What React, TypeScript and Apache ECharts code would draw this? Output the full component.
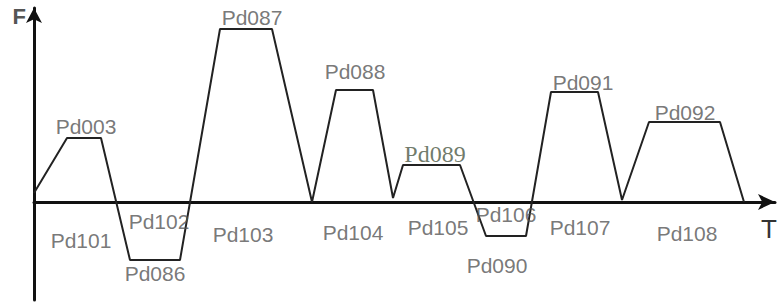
import React, { useEffect, useRef } from "react";
import * as echarts from "echarts";

// Force profile: time (t) vs force (F)
const traceT = [0, 33, 67, 96, 146, 186, 238, 278, 302, 339, 359, 369, 426, 452, 492, 517, 564, 588, 615, 686, 710];
const traceF = [9, 64, 64, -58, -58, 173, 173, 0, 112, 112, 4, 37, 37, -34, -34, 110, 110, 2, 80, 80, 0];

// Segment labels
const labelNames = ["Pd003", "Pd101", "Pd102", "Pd086", "Pd087", "Pd103", "Pd088", "Pd104", "Pd089", "Pd105", "Pd106", "Pd090", "Pd091", "Pd107", "Pd092", "Pd108"];
const labelT = [52, 47, 125, 121, 218, 209, 321, 319, 401, 404, 472, 463, 549, 546, 651, 653];
const labelF = [76, -38, -19, -71, 185, -32, 131, -30, 48, -25, -12, -63, 120, -25, 90, -31];

const axisNames = { y: "F", x: "T" };

export default function App() {
  const ref = useRef<HTMLDivElement>(null);
  useEffect(() => {
    if (!ref.current) return;
    const chart = echarts.init(ref.current, null, { renderer: "svg" });
    const lineData = traceT.map((t, i) => [t, traceF[i]]);
    const labelData = labelNames.map((n, i) => {
      const item: any = { value: [labelT[i], labelF[i], n] };
      if (n === "Pd089") {
        item.label = { fontFamily: "Liberation Serif", fontSize: 24, color: "#4b5844" };
      }
      return item;
    });
    chart.setOption({
      animation: false,
      backgroundColor: "#ffffff",
      grid: { left: 34, right: 3, top: 8, bottom: 2, outerBoundsMode: "none", containLabel: false },
      xAxis: {
        type: "value",
        min: 0,
        max: 741,
        splitLine: { show: false },
        axisTick: { show: false },
        axisLabel: { show: false },
        axisLine: {
          onZero: true,
          symbol: ["none", "arrow"],
          symbolSize: [12, 17],
          lineStyle: { color: "#111", width: 3 },
        },
        name: axisNames.x,
        nameLocation: "end",
        nameGap: 2,
        nameTextStyle: {
          fontFamily: "Liberation Sans",
          fontSize: 26,
          color: "#333",
          align: "right",
          verticalAlign: "top",
          padding: [14, 0, 0, 0],
        },
      },
      yAxis: {
        type: "value",
        min: -98,
        max: 194,
        splitLine: { show: false },
        axisTick: { show: false },
        axisLabel: { show: false },
        axisLine: {
          onZero: false,
          symbol: ["none", "arrow"],
          symbolSize: [12, 15],
          lineStyle: { color: "#111", width: 3 },
        },
        name: axisNames.y,
        nameLocation: "end",
        nameGap: -8,
        nameTextStyle: {
          fontFamily: "Liberation Sans",
          fontSize: 22,
          fontWeight: "bold",
          color: "#555",
          align: "right",
          verticalAlign: "middle",
          padding: [0, 8, 0, 0],
        },
      },
      series: [
        {
          type: "line",
          data: lineData,
          symbol: "none",
          lineStyle: { color: "#222", width: 2 },
          z: 3,
        },
        {
          type: "scatter",
          data: labelData,
          symbolSize: 0,
          clip: false,
          silent: true,
          label: {
            show: true,
            position: "inside",
            formatter: (p: any) => p.value[2],
            fontFamily: "Liberation Sans",
            fontSize: 21,
            color: "#555",
          },
          z: 4,
        },
      ],
    });
    return () => chart.dispose();
  }, []);
  return (
    <div
      ref={ref}
      style={{ position: "fixed", left: 0, top: 0, width: 778, height: 302 }}
    />
  );
}
